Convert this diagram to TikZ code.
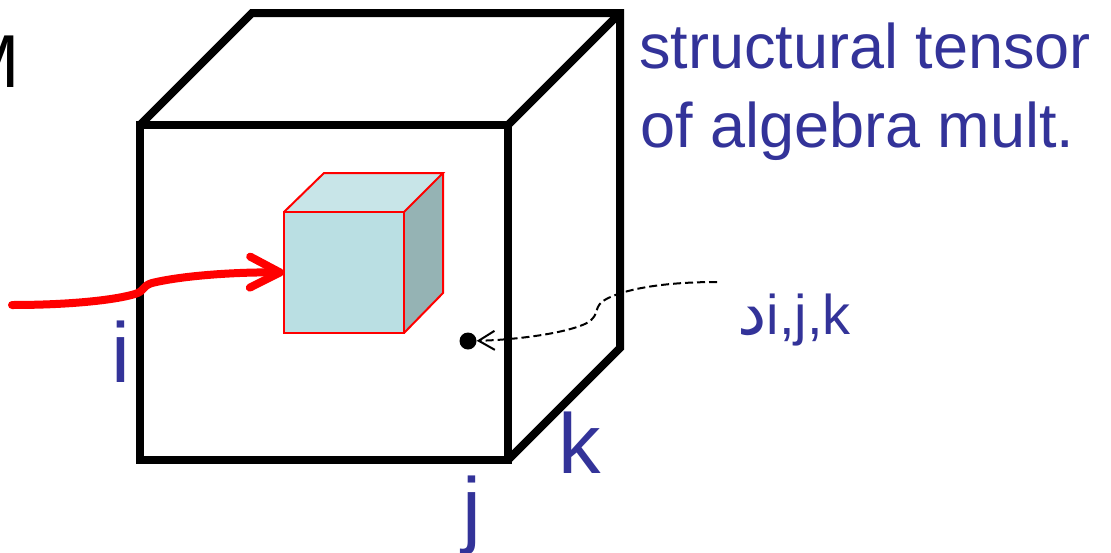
\documentclass[tikz,border=0pt]{standalone}
\usepackage{fontspec}
\setmainfont{Liberation Sans}
\newfontfamily\arabicfont[Script=Arabic]{DejaVu Sans}
\TeXXeTstate=1
\usetikzlibrary{arrows.meta}
\definecolor{txtblue}{RGB}{51,51,153}
\definecolor{cubefront}{RGB}{186,223,227}
\definecolor{cubetop}{RGB}{200,229,232}
\definecolor{cubeside}{RGB}{149,179,180}
\begin{document}
\begin{tikzpicture}[x=1pt,y=-1pt,
  bigedge/.style={line width=8pt, line join=miter, draw=black},
  smalledge/.style={line width=2pt, draw=red, line join=miter},
  lbl/.style={inner sep=0pt, anchor=base west, text=txtblue},
  biglbl/.style={lbl, font=\fontsize{85}{100}\selectfont},
  toptext/.style={lbl, font=\fontsize{63}{79}\selectfont},
  redarrow/.style={draw=red, line width=8pt, line cap=round, line join=round,
    -{Straight Barb[length=30pt, width=31pt, line cap=round, line join=round]}},
  ptr/.style={draw=black, line width=2pt, dash pattern=on 8pt off 4pt,
    -{Straight Barb[length=16pt, width=19pt, line width=2pt]}},
]
\useasboundingbox (0,0) rectangle (1111,552);

% big cube
\node[bigedge, rectangle, minimum width=368pt, minimum height=335pt, inner sep=0pt, outer sep=0pt, anchor=north west] (front) at (140,125) {};
\draw[bigedge] (front.north west) -- (252,13) -- (620,13) -- (620,348) -- (front.south east);
\draw[bigedge] (front.north east) -- (620,13);

% small cube
\fill[cubetop] (284,212) -- (324,173) -- (443,173) -- (404,212) -- cycle;
\fill[cubeside] (404,212) -- (443,173) -- (443,293) -- (404,333) -- cycle;
\node[smalledge, fill=cubefront, rectangle, minimum width=120pt, minimum height=121pt, inner sep=0pt, outer sep=0pt, anchor=north west] (sfront) at (284,212) {};
\draw[smalledge] (sfront.north west) -- (324,173) -- (443,173) -- (sfront.north east);
\draw[smalledge] (443,173) -- (443,293) -- (sfront.south east);

% red arrow
\coordinate (redstart) at (12,305);
\draw[redarrow] (redstart) .. controls (70,305) and (115,300) .. (135,294)
  .. controls (145,291) and (142,286) .. (152,283)
  .. controls (185,275) and (240,272) .. (sfront.west);

% labels
\node[font=\fontsize{75}{90}\selectfont, inner sep=0pt, anchor=base east] (M) at (20.5,87) {M};
\node[toptext] (t1) at (639,68) {structural tensor};
\node[toptext] (t2) at (640,147) {of algebra mult.};
\node[biglbl] (li) at (111,382) {i};
\node[biglbl] (lj) at (462,537) {j};
\node[biglbl] (lk) at (558,473) {k};

% element label and pointer
\node[circle, fill=black, minimum size=17pt, inner sep=0pt] (dot) at (468,341) {};
\node[lbl, font=\fontsize{56}{68}\selectfont] (gam) at (737,334) {{\arabicfont\fontsize{66}{68}\selectfont\beginR د\endR}i,j,k};
\coordinate (ptrstart) at (717,282);
\draw[ptr] (ptrstart) .. controls (660,282) and (620,290) .. (603,301)
  .. controls (592,309) and (602,318) .. (580,326)
  .. controls (555,335) and (510,340) .. (dot);
\end{tikzpicture}
\end{document}
